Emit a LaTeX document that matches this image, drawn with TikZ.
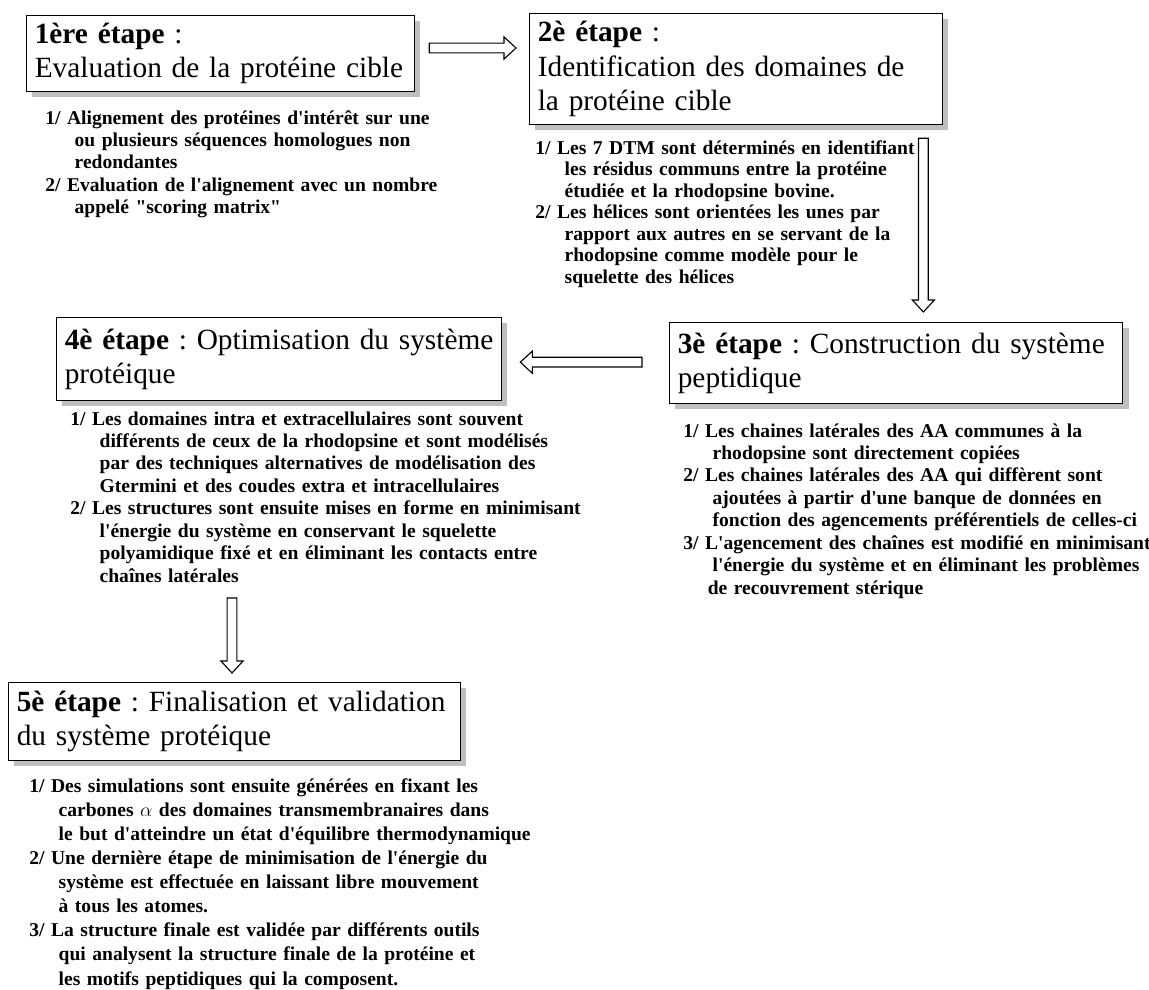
\documentclass[tikz,border=0pt]{standalone}
\usepackage{fontspec}
\setmainfont{Liberation Serif}[Ligatures=TeXOff]
\usetikzlibrary{calc,shadows}

\tikzset{
  stepbox/.style={draw, fill=white, line width=0.8pt, anchor=north west, align=left,
    inner xsep=5pt, inner ysep=2pt, font=\fontsize{18}{21}\selectfont\frenchspacing,
    drop shadow={shadow xshift=3.5pt, shadow yshift=-3.5pt, fill=black!25, opacity=1}},
  stepnote/.style={anchor=base west, align=left, inner sep=0pt, text width=330pt,
    font=\fontsize{12}{13.8}\selectfont\bfseries\frenchspacing},
  blockarrow/.style={draw, fill=white, line width=0.7pt, line join=miter, to path={
    ($(\tikztostart)!3pt!90:(\tikztotarget)$)
    -- ($($(\tikztotarget)!7.4pt!(\tikztostart)$)!3pt!-90:(\tikztostart)$)
    -- ($($(\tikztotarget)!7.4pt!(\tikztostart)$)!6.8pt!-90:(\tikztostart)$)
    -- (\tikztotarget)
    -- ($($(\tikztotarget)!7.4pt!(\tikztostart)$)!6.8pt!90:(\tikztostart)$)
    -- ($($(\tikztotarget)!7.4pt!(\tikztostart)$)!3pt!90:(\tikztostart)$)
    -- ($(\tikztostart)!3pt!-90:(\tikztotarget)$)
    -- cycle}}
}
\newcommand{\ind}{\hspace*{18pt}}

\begin{document}
\begin{tikzpicture}[x=0.6135pt, y=-0.6135pt]
  \useasboundingbox (0,0) rectangle (1149,989);

  % les cinq etapes
  \node[stepbox, text width=228pt, minimum height=46.6pt] (e1) at (26,15)
    {\textbf{1ère étape} :\\Evaluation de la protéine cible};
  \node[stepbox, text width=243.4pt, minimum height=68.1pt] (e2) at (529,13)
    {\textbf{2è étape} :\\Identification des domaines de\\la protéine cible};
  \node[stepbox, text width=268pt, minimum height=49.7pt] (e3) at (669,322)
    {\mbox{\textbf{3è étape} : Construction du système}\\peptidique};
  \node[stepbox, text width=263pt, minimum height=50.9pt] (e4) at (56,317)
    {\mbox{\textbf{4è étape} : Optimisation du système}\\protéique};
  \node[stepbox, text width=267.3pt, minimum height=47.9pt] (e5) at (8,682)
    {\mbox{\textbf{5è étape} : Finalisation et validation}\\du système protéique};

  \node[stepnote] (n1) at (45,124) {1/ Alignement des protéines d'intérêt sur une\\
    \ind ou plusieurs séquences homologues non\\
    \ind redondantes\\
    2/ Evaluation de l'alignement avec un nombre\\
    \ind appelé "scoring matrix"};
  \node[stepnote, font=\fontsize{12}{13.2}\selectfont\bfseries\frenchspacing] (n2) at (535,154)
    {1/ Les 7 DTM sont déterminés en identifiant\\
    \ind les résidus communs entre la protéine\\
    \ind étudiée et la rhodopsine bovine.\\
    2/ Les hélices sont orientées les unes par\\
    \ind rapport aux autres en se servant de la\\
    \ind rhodopsine comme modèle pour le\\
    \ind squelette des hélices};
  \node[stepnote] (n3) at (683,437) {1/ Les chaines latérales des AA communes à la\\
    \ind rhodopsine sont directement copiées\\
    2/ Les chaines latérales des AA qui diffèrent sont\\
    \ind ajoutées à partir d'une banque de données en\\
    \ind fonction des agencements préférentiels de celles-ci\\
    3/ L'agencement des chaînes est modifié en minimisant\\
    \ind l'énergie du système et en éliminant les problèmes\\
    \hspace*{15pt}de recouvrement stérique};
  \node[stepnote] (n4) at (70,425) {1/ Les domaines intra et extracellulaires sont souvent\\
    \ind différents de ceux de la rhodopsine et sont modélisés\\
    \ind par des techniques alternatives de modélisation des\\
    \ind Gtermini et des coudes extra et intracellulaires\\
    2/ Les structures sont ensuite mises en forme en minimisant\\
    \ind l'énergie du système en conservant le squelette\\
    \ind polyamidique fixé et en éliminant les contacts entre\\
    \ind chaînes latérales};
  \node[stepnote, font=\fontsize{12}{14.8}\selectfont\bfseries\frenchspacing] (n5) at (29,792)
    {1/ Des simulations sont ensuite générées en fixant les\\
    \ind carbones {\mdseries$\alpha$} des domaines transmembranaires dans\\
    \ind le but d'atteindre un état d'équilibre thermodynamique\\
    2/ Une dernière étape de minimisation de l'énergie du\\
    \ind système est effectuée en laissant libre mouvement\\
    \ind à tous les atomes.\\
    3/ La structure finale est validée par différents outils\\
    \ind qui analysent la structure finale de la protéine et\\
    \ind les motifs peptidiques qui la composent.};

  % fleches
  \draw[blockarrow] ([shift={(14,33)}]e1.north east) to ([shift={(-13,35)}]e2.north west);
  \coordinate (a23) at ([shift={(-20,13)}]e2.south east);
  \draw[blockarrow] (a23) to ($(a23 |- e3.north)+(0,-10)$);
  \coordinate (a34) at ([shift={(-27,-1)}]e3.west);
  \draw[blockarrow] (a34) to ($(e4.east |- a34)+(18,0)$);
  \coordinate (a45) at (232,598);
  \draw[blockarrow] (a45) to ($(a45 |- e5.north)+(0,-9)$);
\end{tikzpicture}
\end{document}
